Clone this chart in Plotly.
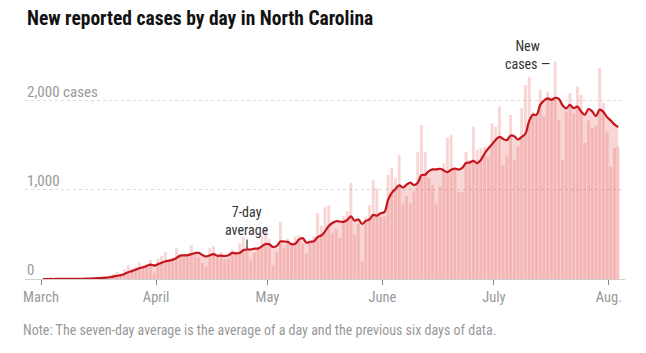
import plotly.graph_objects as go
import pandas as pd

# Daily new reported cases, March 1 .. Aug 3 (2020)
march = [0, 0, 1, 0, 1, 0, 0, 2, 2, 5,
         5, 7, 8, 10, 12, 15, 25, 30, 40, 55,
         80, 60, 110, 155, 120, 140, 185, 150, 170, 215, 70]
april = [230, 260, 305, 200, 240, 345, 260, 250, 280, 380,
         290, 250, 180, 140, 350, 370, 250, 300, 220, 230,
         330, 310, 400, 470, 360, 220, 300, 340, 480, 580]
may = [450, 150, 300, 640, 350, 450, 400, 480, 490, 400,
       290, 420, 480, 740, 600, 810, 830, 520, 560, 460,
       710, 760, 1080, 500, 620, 200, 700, 830, 1110, 1020, 700]
june = [700, 1170, 1250, 1135, 1390, 850, 930, 850, 985, 1430,
        1730, 1430, 1135, 1056, 850, 1040, 1300, 1590, 1620, 1225,
        980, 980, 1430, 1340, 1710, 1450, 1470, 1490, 1375, 1750]
july = [1712, 1936, 1281, 1375, 1843, 1337, 1487, 1921, 2180, 2273,
        1880, 1825, 2124, 1825, 2105, 2049, 2442, 1787, 1337, 1880,
        2090, 1860, 2161, 2067, 1528, 1780, 1697, 1720, 2371, 1978, 1655]
august = [1262, 1472, 1487]

cases = march + april + may + june + july + august
days = list(range(len(cases)))            # 0 = March 1
avg = pd.Series(cases).rolling(7, min_periods=1).mean().tolist()

tick_days = [0, 31, 61, 92, 122, 153]
tick_labels = ["March", "April", "May", "June", "July", "Aug."]
grid_values = [1000, 2000]
y_labels = {0: "0", 1000: "1,000", 2000: "2,000 cases"}

xpos = [d + 0.5 for d in days]

FONT = "Liberation Sans Narrow, Roboto Condensed, Arial Narrow, Roboto, sans-serif"
GRAY = "#999999"

fig = go.Figure()
fig.add_trace(go.Bar(
    x=xpos, y=cases, marker=dict(color="rgba(226,62,62,0.21)", line=dict(width=0)),
    hoverinfo="skip", showlegend=False))
fig.add_trace(go.Scatter(
    x=xpos, y=avg, mode="lines", fill="tozeroy", line_shape="spline",
    fillcolor="rgba(226,62,62,0.21)", line=dict(color="#c4161c", width=2.2),
    hoverinfo="skip", showlegend=False))

annotations = []
for v, t in y_labels.items():
    annotations.append(dict(
        x=0, xref="paper", y=v, yref="y", text=t, showarrow=False,
        xanchor="left", yanchor="bottom", yshift=-2,
        font=dict(family=FONT, size=15, color=GRAY)))

# 7-day average label
i7 = 55
annotations.append(dict(
    x=xpos[i7], y=avg[i7], xref="x", yref="y", text="7-day<br>average",
    showarrow=True, arrowhead=0, arrowwidth=1.2, arrowcolor="#333",
    ax=0, ay=-10, yanchor="bottom", standoff=1,
    font=dict(family=FONT, size=14, color="#333")))

# New cases label at the tallest bar
ipk = cases.index(max(cases))
annotations.append(dict(
    x=xpos[ipk], y=cases[ipk], xref="x", yref="y", text="New<br>cases \u2014",
    showarrow=False, xanchor="right", yanchor="middle", xshift=-3, yshift=7,
    align="center", font=dict(family=FONT, size=14, color="#333")))

annotations.append(dict(
    x=-0.006, xref="paper", y=-0.213, yref="paper",
    text="Note: The seven-day average is the average of a day and the previous six days of data.",
    showarrow=False, xanchor="left", yanchor="middle",
    font=dict(family=FONT, size=14, color=GRAY)))

fig.update_layout(
    width=646, height=353,
    margin=dict(l=25, r=21, t=40, b=74),
    paper_bgcolor="white", plot_bgcolor="white",
    title=dict(text="<b>New reported cases by day in North Carolina</b>",
               x=27 / 646, xanchor="left", xref="container",
               y=1 - 18 / 353, yanchor="middle", yref="container",
               font=dict(family=FONT, size=19.5, color="#121212")),
    bargap=0.22,
    xaxis=dict(range=[-4.31, 157.33], tickvals=tick_days, ticktext=tick_labels,
               ticks="outside", ticklen=5, tickcolor="#888", tickwidth=1,
               showgrid=False, zeroline=False, showline=False,
               tickfont=dict(family=FONT, size=14.5, color=GRAY)),
    yaxis=dict(range=[0, 2685], tickvals=grid_values, showticklabels=False,
               showgrid=True, gridcolor="#dcdcdc", griddash="dot", gridwidth=1,
               zeroline=True, zerolinecolor="#d0d0d0", zerolinewidth=1,
               showline=False, ticks=""),
    annotations=annotations,
)

fig.write_html("out.html")
